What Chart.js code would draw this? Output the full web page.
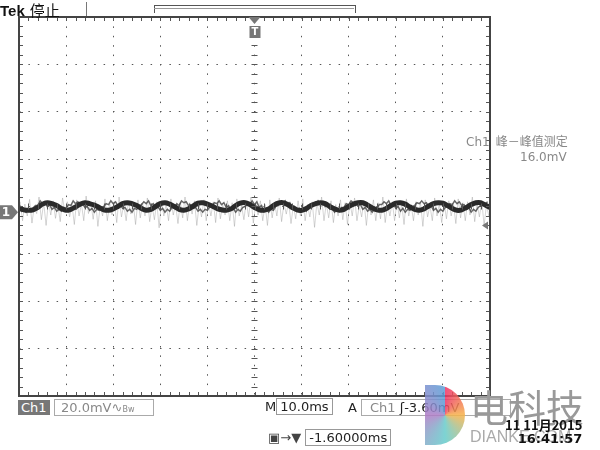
<!DOCTYPE html>
<html><head><meta charset="utf-8">
<script src="https://cdn.jsdelivr.net/npm/chart.js@4"></script>
<style>html,body{margin:0;background:#fff}#w{position:relative;width:600px;height:450px}canvas{position:absolute;left:0;top:0}</style>
</head><body><div id="w"><canvas id="c" width="600" height="450"></canvas></div>
<script>
// x in divisions (10 ms/div), y in divisions (20 mV/div)
const traceX = Array.from({length:101},(_, i)=>+(i/10).toFixed(1));
const traceY = [-0.03,-0.07,-0.08,-0.07,-0.02,0.05,0.08,0.06,0.02,-0.04,
 -0.08,-0.06,-0.01,0.05,0.08,0.06,0.03,-0.02,-0.07,-0.08,
 -0.05,0.0,0.06,0.08,0.06,0.02,-0.04,-0.08,-0.06,0.0,
 0.06,0.08,0.05,0.0,-0.06,-0.08,-0.05,0.01,0.07,0.08,
 0.05,0.01,-0.04,-0.07,-0.08,-0.05,0.02,0.07,0.08,0.04,
 -0.02,-0.07,-0.08,-0.05,0.02,0.07,0.08,0.04,-0.02,-0.07,
 -0.08,-0.04,0.02,0.06,0.08,0.06,0.0,-0.05,-0.08,-0.06,
 0.0,0.05,0.08,0.08,0.03,-0.03,-0.07,-0.08,-0.04,0.02,
 0.07,0.08,0.05,-0.01,-0.06,-0.08,-0.05,0.01,0.06,0.08,
 0.07,0.02,-0.04,-0.08,-0.07,-0.02,0.04,0.08,0.08,0.03,-0.02];
const fuzzX = Array.from({length:200},(_, i)=>+(i*0.05).toFixed(3));
const fuzzY = [-0.0,-0.1,-0.04,-0.12,-0.05,-0.1,-0.03,0.02,0.02,0.12,0.06,0.1,0.0,0.04,-0.06,-0.02,-0.1,-0.06,-0.1,-0.02,
 -0.04,0.04,0.02,0.12,0.06,0.1,0.04,0.06,-0.02,0.0,-0.08,-0.04,-0.12,-0.06,-0.08,-0.02,0.0,0.06,0.04,0.12,
 0.06,0.1,0.02,0.04,-0.04,-0.02,-0.1,-0.06,-0.12,-0.04,-0.06,0.02,0.04,0.1,0.06,0.12,0.02,0.06,-0.02,0.0,
 -0.08,-0.04,-0.12,-0.06,-0.1,-0.02,-0.04,0.06,0.02,0.12,0.08,0.1,0.02,0.04,-0.04,-0.02,-0.1,-0.06,-0.12,-0.06,
 -0.08,0.0,0.02,0.08,0.06,0.12,0.04,0.08,-0.02,0.02,-0.08,-0.04,-0.12,-0.06,-0.1,-0.02,0.0,0.06,0.04,0.12,
 0.04,0.1,-0.02,0.02,-0.1,-0.04,-0.12,-0.06,-0.08,0.0,0.02,0.08,0.06,0.12,0.04,0.08,-0.02,0.0,-0.08,-0.04,
 -0.12,-0.06,-0.1,-0.02,0.0,0.06,0.04,0.12,0.06,0.1,0.0,0.04,-0.06,-0.04,-0.12,-0.06,-0.1,-0.02,-0.02,0.06,
 0.04,0.12,0.08,0.1,0.02,0.04,-0.06,-0.02,-0.1,-0.06,-0.12,-0.04,-0.04,0.04,0.04,0.1,0.06,0.12,0.02,0.06,
 -0.04,0.0,-0.1,-0.04,-0.12,-0.06,-0.08,0.0,0.02,0.08,0.06,0.12,0.06,0.08,-0.02,0.02,-0.08,-0.04,-0.12,-0.06,
 -0.1,-0.02,0.0,0.06,0.04,0.12,0.06,0.1,0.02,0.04,-0.06,-0.02,-0.12,-0.06,-0.1,-0.02,0.02,0.08,0.06,0.1];
const noiseX = Array.from({length:200},(_, i)=>+(i*0.05+0.025).toFixed(3));
const noiseY = [0.1,-0.3,0.05,-0.2,0.15,-0.35,0.0,-0.15,0.2,-0.28,0.08,-0.4,0.1,-0.18,0.12,-0.25,0.05,-0.32,0.18,-0.12,
 0.1,-0.22,0.04,-0.38,0.14,-0.2,0.06,-0.3,0.22,-0.15,0.08,-0.27,0.12,-0.42,0.02,-0.2,0.16,-0.3,0.06,-0.18,
 0.1,-0.34,0.2,-0.22,0.04,-0.3,0.12,-0.16,0.08,-0.38,0.14,-0.24,0.06,-0.2,0.18,-0.32,0.02,-0.28,0.1,-0.45,
 0.12,-0.2,0.06,-0.3,0.16,-0.18,0.04,-0.36,0.1,-0.24,0.2,-0.3,0.08,-0.16,0.12,-0.4,0.04,-0.22,0.14,-0.3,
 0.06,-0.2,0.1,-0.34,0.18,-0.26,0.04,-0.18,0.12,-0.3,0.08,-0.42,0.16,-0.2,0.02,-0.28,0.1,-0.22,0.2,-0.35,
 0.06,-0.18,0.12,-0.3,0.04,-0.4,0.14,-0.24,0.08,-0.2,0.18,-0.32,0.06,-0.16,0.1,-0.36,0.02,-0.26,0.12,-0.2,
 0.16,-0.3,0.04,-0.22,0.1,-0.44,0.08,-0.18,0.2,-0.3,0.06,-0.24,0.12,-0.34,0.04,-0.2,0.14,-0.28,0.08,-0.38,
 0.1,-0.2,0.18,-0.3,0.02,-0.22,0.12,-0.4,0.06,-0.18,0.14,-0.3,0.08,-0.26,0.2,-0.34,0.04,-0.2,0.1,-0.3,
 0.12,-0.24,0.06,-0.38,0.16,-0.2,0.04,-0.3,0.1,-0.18,0.08,-0.42,0.14,-0.22,0.02,-0.3,0.18,-0.2,0.06,-0.34,
 0.1,-0.26,0.12,-0.2,0.04,-0.36,0.16,-0.24,0.08,-0.3,0.1,-0.18,0.2,-0.32,0.06,-0.22,0.12,-0.4,0.04,-0.2];
const groundLevel = -0.12;
const triggerX = 5.0;

const grat = {
 id:'grat',
 afterDatasetsDraw(ch){
  const c=ch.ctx,a=ch.chartArea,xs=ch.scales.x,ys=ch.scales.y;
  c.save();
  c.strokeStyle='#555';c.lineWidth=1;
  const cx=xs.getPixelForValue(5),cy=ys.getPixelForValue(0);
  for(let v=0;v<=10.001;v+=0.2){const p=Math.round(xs.getPixelForValue(v))+0.5;
   c.beginPath();c.moveTo(p,cy-3);c.lineTo(p,cy+3);c.stroke();
   c.beginPath();c.moveTo(p,a.top);c.lineTo(p,a.top+4);c.moveTo(p,a.bottom);c.lineTo(p,a.bottom-4);c.stroke();}
  for(let v=-4;v<=4.001;v+=0.2){const p=Math.round(ys.getPixelForValue(v))+0.5;
   c.beginPath();c.moveTo(cx-3,p);c.lineTo(cx+3,p);c.stroke();
   c.beginPath();c.moveTo(a.left,p);c.lineTo(a.left+4,p);c.moveTo(a.right,p);c.lineTo(a.right-4,p);c.stroke();}
  c.strokeStyle='#444';c.lineWidth=2;c.strokeRect(a.left,a.top,a.right-a.left,a.bottom-a.top);
  const gy=ys.getPixelForValue(groundLevel);
  c.fillStyle='#777';c.beginPath();c.moveTo(0,gy-7);c.lineTo(12,gy-7);c.lineTo(18,gy);c.lineTo(12,gy+7);c.lineTo(0,gy+7);c.fill();
  c.fillStyle='#fff';c.font='bold 12px DejaVu Sans';c.textAlign='center';c.textBaseline='middle';c.fillText('1',6,gy+1);
  const ay=ys.getPixelForValue(-0.4);
  c.fillStyle='#777';c.beginPath();c.moveTo(a.right-2,ay-4);c.lineTo(a.right-8,ay);c.lineTo(a.right-2,ay+4);c.fill();
  const tx=xs.getPixelForValue(triggerX);
  c.fillStyle='#777';c.beginPath();c.moveTo(tx-6,a.top);c.lineTo(tx+6,a.top);c.lineTo(tx,a.top+7);c.fill();
  c.fillRect(tx-5,a.top+9,11,12);c.fillStyle='#fff';c.font='bold 10px DejaVu Sans';c.fillText('T',tx+0.5,a.top+15);
  c.restore();
 }
};

new Chart(document.getElementById('c'),{
 type:'line',
 data:{datasets:[
  {data:traceX.map((x,i)=>({x,y:traceY[i]})),borderColor:'#2a2a2a',borderWidth:5,pointRadius:0,tension:0.4,order:1},
  {data:fuzzX.map((x,i)=>({x,y:fuzzY[i]})),borderColor:'rgba(40,40,40,0.7)',borderWidth:1.5,pointRadius:0,tension:0,order:1},
  {data:noiseX.map((x,i)=>({x,y:noiseY[i]})),borderColor:'rgba(150,150,150,0.4)',borderWidth:1,pointRadius:0,tension:0,order:2}
 ]},
 options:{responsive:false,animation:false,
  layout:{padding:{left:19,right:110,top:17,bottom:54}},
  plugins:{legend:{display:false},tooltip:{enabled:false}},
  scales:{
   x:{type:'linear',min:0,max:10,ticks:{display:false,stepSize:1},border:{display:false,dash:[1.5,7.9]},
      grid:{drawTicks:false,color:'#555',lineWidth:1}},
   y:{min:-4,max:4,ticks:{display:false,stepSize:1},border:{display:false,dash:[1.5,7.9]},
      grid:{drawTicks:false,color:'#555',lineWidth:1}}
  }
 },
 plugins:[grat]
});
</script>
<div style="position:absolute;left:0;top:-1px;font:bold 15px 'Liberation Sans';color:#111;white-space:nowrap">Tek<span style="font-weight:normal;font-size:15px;font-family:'Noto Sans CJK SC';margin-left:5px">停止</span></div>
<div style="position:absolute;left:86px;top:2px;width:1px;height:14px;background:#777"></div>
<div style="position:absolute;left:154px;top:5px;width:200px;height:7px;border:1px solid #555;border-bottom:none"></div>
<div style="position:absolute;left:154px;top:8px;width:200px;height:1px;background:#999"></div>
<div style="position:absolute;left:466px;top:133px;font:12px 'DejaVu Sans';color:#888;line-height:15px;white-space:nowrap">Ch1<span style="font-family:'Noto Sans CJK SC';margin-left:6px">峰－峰值测定</span><br><span style="padding-left:54px">16.0mV</span></div>
<div style="position:absolute;left:18px;top:400px;font:13px 'DejaVu Sans';color:#fff;background:#777;padding:0 3px">Ch1</div>
<div style="position:absolute;left:54px;top:399px;width:92px;height:15px;border:1px solid #aaa;font:13px 'DejaVu Sans';color:#888;padding-left:6px">20.0mV∿<span style="font-size:8px">Bw</span></div>
<div style="position:absolute;left:265px;top:399px;font:13px 'DejaVu Sans';color:#222">M<span style="border:1px solid #999;padding:0 3px">10.0ms</span></div>
<div style="position:absolute;left:348px;top:399px;font:13px 'DejaVu Sans';color:#222">A <span style="display:inline-block;width:140px;border:1px solid #aaa;color:#888;padding-left:8px">Ch1 <span style="color:#222">ʃ-3.60mV</span></span></div>
<div style="position:absolute;left:268px;top:430px;font:13px 'DejaVu Sans';color:#444">▣→▼ <span style="border:1px solid #999;padding:0 3px;color:#222">-1.60000ms</span></div>
<div style="position:absolute;left:425px;top:385px;width:40px;height:60px;border-radius:0 30px 30px 0;background:conic-gradient(#e36 0deg,#f7b34a 90deg,#6cc 180deg,#b07cc6 270deg,#5a9ed6 360deg);opacity:0.85"></div>
<div style="position:absolute;left:470px;top:378px;font:38px 'Noto Sans CJK SC';color:#999">电科技</div>
<div style="position:absolute;left:470px;top:428px;font:16px 'Liberation Sans';color:#aaa">DIANKE.COM</div>
<div style="position:absolute;left:505px;top:418px;font:bold 13px 'DejaVu Sans';color:#111;line-height:13px;text-align:right"><span style="font-family:'Noto Sans CJK SC'">11 11月2015</span><br>16:41:57</div>
</body></html>
